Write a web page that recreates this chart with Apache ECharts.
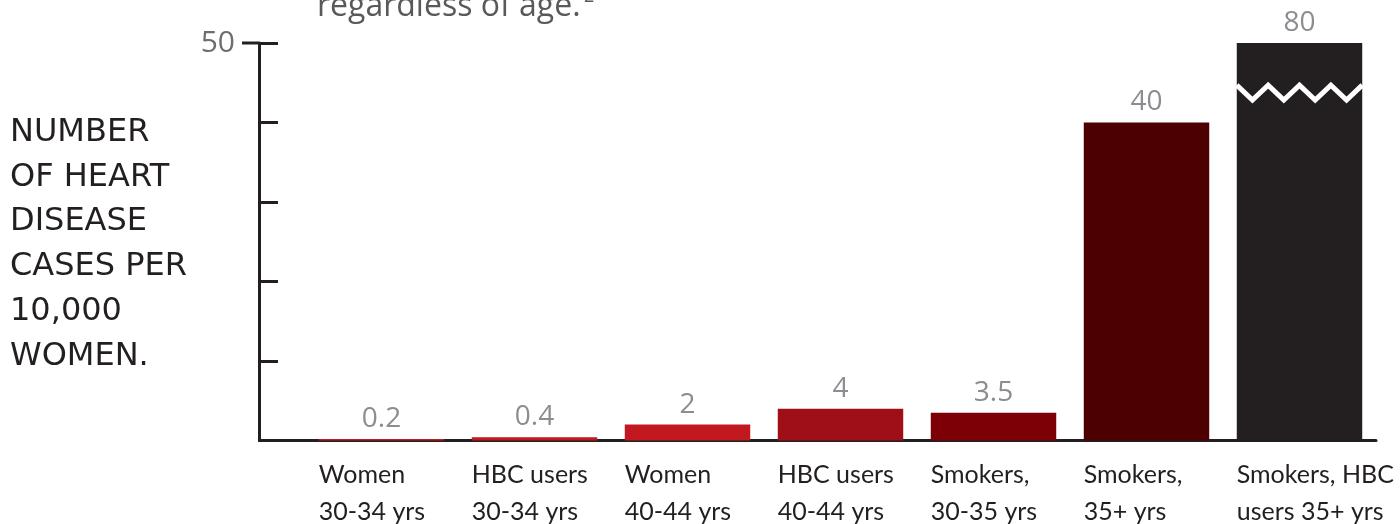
<!DOCTYPE html>
<html>
<head>
<meta charset="utf-8">
<script src="https://cdn.jsdelivr.net/npm/echarts@6/dist/echarts.min.js"></script>
<style>
html,body{margin:0;padding:0;background:#fff;}
#chart{width:1400px;height:524px;}
</style>
</head>
<body>
<div id="chart"></div>
<script>
// ---- data ----
var categories = [
  "Women\n30-34 yrs",
  "HBC users\n30-34 yrs",
  "Women\n40-44 yrs",
  "HBC users\n40-44 yrs",
  "Smokers,\n30-35 yrs",
  "Smokers,\n35+ yrs",
  "Smokers, HBC\nusers 35+ yrs"
];
var values = [0.2, 0.4, 2, 4, 3.5, 40, 80];
var barColors = ["#c1191f", "#c1191f", "#c1191f", "#9e0f17", "#7d0006", "#4d0002", "#231f20"];
var yTickLabels = {50: "50"};
var axisTitle = "NUMBER\nOF HEART\nDISEASE\nCASES PER\n10,000\nWOMEN.";
var topNote = "regardless of age.";
var yMax = 50;

var chart = echarts.init(document.getElementById('chart'), null, {renderer: 'canvas'});

var barData = values.map(function (v, i) {
  return {value: v, itemStyle: {color: barColors[i]}};
});

var option = {
  animation: false,
  backgroundColor: '#ffffff',
  grid: {left: 305, right: 24, top: 43, bottom: 83.5, containLabel: false},
  xAxis: {
    type: 'category',
    data: categories,
    axisLine: {show: true, lineStyle: {color: '#231f20', width: 3}},
    axisTick: {show: false},
    axisLabel: {show: false},
    splitLine: {show: false}
  },
  yAxis: {
    type: 'value',
    min: 0,
    max: yMax,
    interval: 10,
    offset: 46,
    axisLine: {show: true, lineStyle: {color: '#231f20', width: 3}},
    axisTick: {show: true, inside: true, length: 19, lineStyle: {color: '#231f20', width: 3}},
    axisLabel: {
      show: true,
      margin: 24,
      color: '#6d6e70',
      fontFamily: 'Open Sans',
      fontSize: 30,
      formatter: function (v) { return yTickLabels[v] || ''; }
    },
    splitLine: {show: false}
  },
  graphic: [
    {
      type: 'text',
      left: 10,
      top: 110,
      style: {
        text: axisTitle,
        fill: '#231f20',
        font: '32px "DejaVu Sans"',
        lineHeight: 44.8
      }
    },
    {
      type: 'text',
      left: 317,
      top: -9,
      style: {
        text: topNote,
        fill: '#58595b',
        font: '32px "Open Sans"'
      }
    },
    {
      type: 'text',
      left: 584,
      top: -12,
      style: {
        text: '2',
        fill: '#58595b',
        font: '18px "Open Sans"'
      }
    },
    {
      type: 'line',
      shape: {x1: 258, y1: 440.5, x2: 306, y2: 440.5},
      style: {stroke: '#231f20', lineWidth: 3}
    },
    {
      type: 'line',
      shape: {x1: 242, y1: 43, x2: 259, y2: 43},
      style: {stroke: '#231f20', lineWidth: 3}
    }
  ],
  series: [
    {
      type: 'bar',
      data: barData,
      barCategoryGap: '18%',
      clip: true,
      label: {
        show: true,
        position: 'top',
        distance: 6,
        color: '#8b8d90',
        fontFamily: 'Open Sans',
        fontSize: 28
      }
    },
    {
      // category labels, left-aligned with each bar's left edge
      type: 'custom',
      data: categories.map(function (c, i) { return [i, 0]; }),
      silent: true,
      z: 5,
      renderItem: function (params, api) {
        var idx = api.value(0);
        var p = api.coord([idx, 0]);
        var band = api.size([1, 0])[0];
        var bw = band * 0.82;
        return {
          type: 'text',
          x: p[0] - bw / 2,
          y: p[1] + 16,
          style: {
            text: categories[idx],
            fill: '#231f20',
            font: '25px Lato',
            lineHeight: 37,
            align: 'left',
            verticalAlign: 'top'
          }
        };
      }
    },
    {
      // axis break zigzag on the truncated bar
      type: 'custom',
      data: [[values.length - 1, yMax * 0.894]],
      silent: true,
      z: 6,
      renderItem: function (params, api) {
        var idx = api.value(0);
        var p = api.coord([idx, api.value(1)]);
        var band = api.size([1, 0])[0];
        var bw = band * 0.82;
        var x0 = p[0] - bw / 2, x1 = p[0] + bw / 2;
        var n = 8, amp = 15;
        var pts = [];
        for (var k = 0; k <= n; k++) {
          pts.push([x0 + (x1 - x0) * k / n, p[1] + (k % 2 === 0 ? 0 : amp)]);
        }
        return {
          type: 'polyline',
          shape: {points: pts},
          style: {stroke: '#ffffff', lineWidth: 5, fill: null, lineJoin: 'miter'}
        };
      }
    }
  ]
};
chart.setOption(option);
</script>
</body>
</html>
